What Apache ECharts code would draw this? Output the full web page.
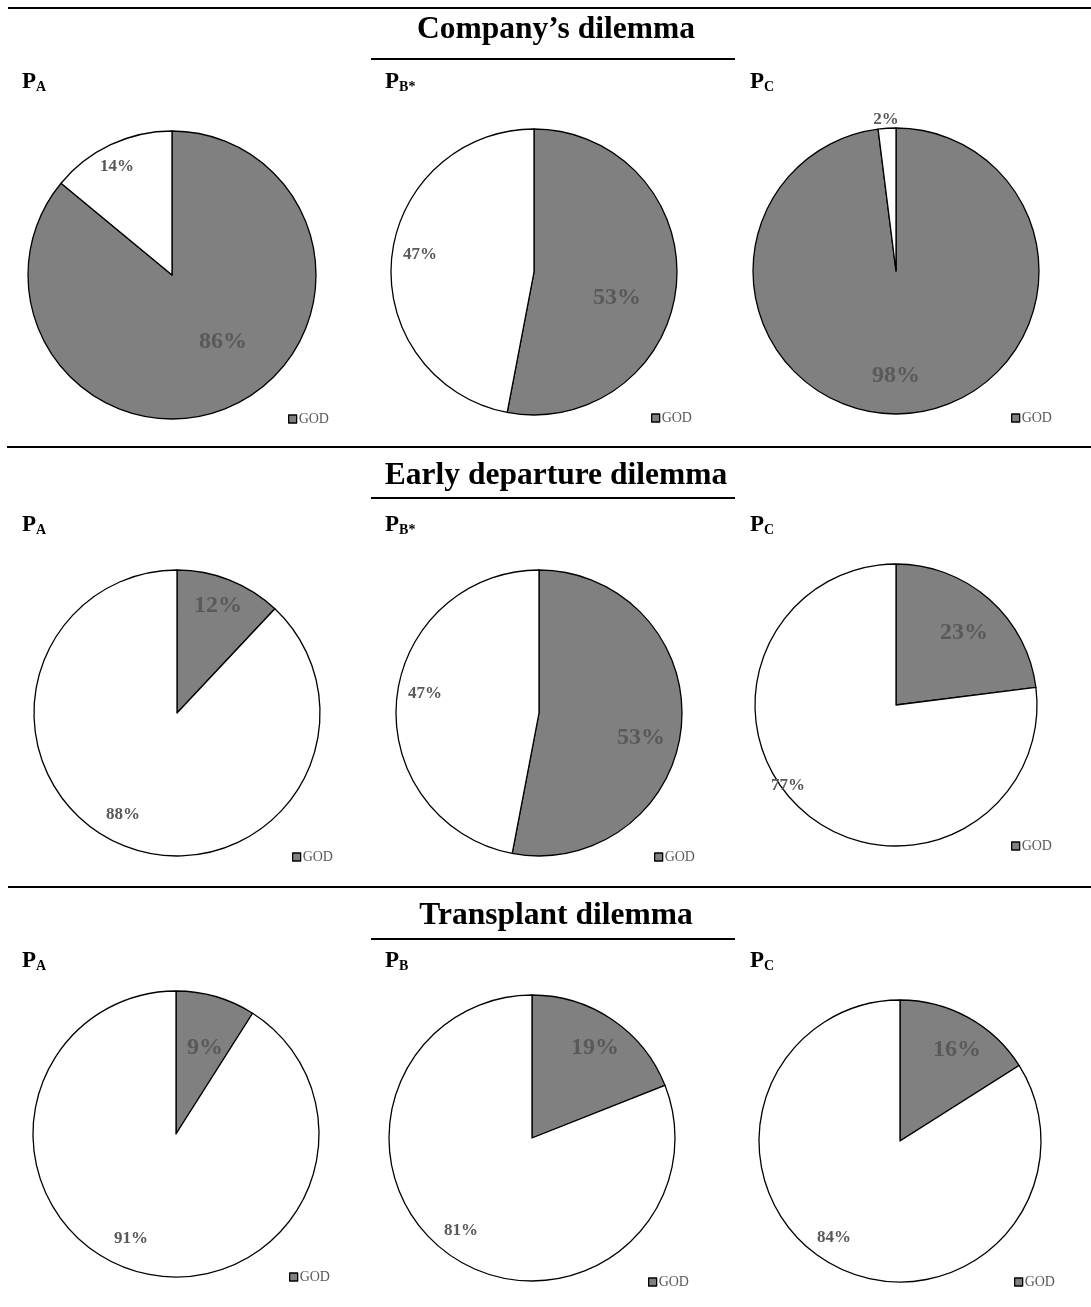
<!DOCTYPE html>
<html>
<head>
<meta charset="utf-8">
<script src="https://cdn.jsdelivr.net/npm/echarts@6/dist/echarts.min.js"></script>
<style>
  html, body { margin: 0; padding: 0; background: #ffffff; }
  #chart { width: 1091px; height: 1307px; }
</style>
</head>
<body>
<div id="chart"></div>
<script>
// ---- data ----
const dilemmas = ['Company’s dilemma', 'Early departure dilemma', 'Transplant dilemma'];
const panelSubscripts = [
  ['A', 'B*', 'C'],
  ['A', 'B*', 'C'],
  ['A', 'B', 'C']
];
const godShare = [
  [86, 53, 98],
  [12, 53, 23],
  [9, 19, 16]
];
const otherShare = [
  [14, 47, 2],
  [88, 47, 77],
  [91, 81, 84]
];
const legendNames = ['GOD'];

// ---- layout ----
const FONT = '"Liberation Serif", "Times New Roman", serif';
const GREY = '#808080';
const LABEL_GREY = '#595959';

// pie centre x, centre y, radius
const pieGeom = [
  [[172, 275, 144], [534, 272, 143], [896, 271, 143]],
  [[177, 713, 143], [539, 713, 143], [896, 705, 141]],
  [[176, 1134, 143], [532, 1138, 143], [900, 1141, 141]]
];
// label text centres relative to the pie centre: [GOD slice, other slice]
const labelSpots = [
  [[[51, 67], [-55, -108]], [[83, 26], [-114, -17]], [[0, 105], [-10, -151]]],
  [[[41, -107], [-54, 102]], [[102, 25], [-114, -19]], [[68, -72], [-108, 81]]],
  [[[29, -86], [-45, 105]], [[63, -90], [-71, 93]], [[57, -91], [-66, 97]]]
];
// legend swatch top-left corners
const legendSpots = [
  [[288, 415], [651, 414], [1011, 414]],
  [[292, 853], [654, 853], [1011, 842]],
  [[289, 1273], [648, 1278], [1014, 1278]]
];
const headingY = [30, 476, 916];
const headingX = 556;
const ruleY = [8, 447, 887];
const ruleX0 = [8, 7, 8];
const underlineY = [59, 498, 939];
const underlineX = [371, 735];
const panelLabelX = [22, 385, 750];
const panelLabelY = [83, 526, 962];

const series = [];
const legends = [];
const graphics = [];

dilemmas.forEach((heading, r) => {
  // section rule, heading and underline
  graphics.push({
    type: 'line', silent: true,
    shape: { x1: ruleX0[r], y1: ruleY[r], x2: 1091, y2: ruleY[r] },
    style: { stroke: '#000', lineWidth: 2 }
  });
  graphics.push({
    type: 'text', silent: true, x: headingX, y: headingY[r],
    style: {
      text: heading, font: 'bold 31.5px ' + FONT, fill: '#000',
      align: 'center', verticalAlign: 'middle'
    }
  });
  graphics.push({
    type: 'line', silent: true,
    shape: { x1: underlineX[0], y1: underlineY[r], x2: underlineX[1], y2: underlineY[r] },
    style: { stroke: '#000', lineWidth: 2 }
  });

  for (let c = 0; c < 3; c++) {
    const [cx, cy, rad] = pieGeom[r][c];
    const spots = labelSpots[r][c];

    // panel label P with subscript
    graphics.push({
      type: 'text', silent: true, x: panelLabelX[c], y: panelLabelY[r],
      style: {
        text: '{p|P}{s|' + panelSubscripts[r][c] + '}',
        align: 'left', verticalAlign: 'middle',
        rich: {
          p: { fontFamily: FONT, fontWeight: 'bold', fontSize: 23, lineHeight: 22, fill: '#000', color: '#000', verticalAlign: 'bottom' },
          s: { fontFamily: FONT, fontWeight: 'bold', fontSize: 14, lineHeight: 10, fill: '#000', color: '#000', verticalAlign: 'bottom' }
        }
      }
    });

    series.push({
      type: 'pie',
      center: [cx, cy],
      radius: rad,
      startAngle: 90,
      clockwise: true,
      animation: false,
      silent: true,
      emphasis: { disabled: true },
      itemStyle: { borderColor: '#000', borderWidth: 1.3 },
      label: {
        show: true,
        position: 'inside',
        formatter: '{c}%',
        fontFamily: FONT,
        fontWeight: 'bold',
        color: LABEL_GREY
      },
      labelLine: { show: false },
      labelLayout: (params) => {
        const [dx, dy] = spots[params.dataIndex];
        return { x: cx + dx, y: cy + dy, align: 'center', verticalAlign: 'middle' };
      },
      data: [
        { name: 'GOD', value: godShare[r][c], itemStyle: { color: GREY }, label: { fontSize: 24 } },
        { name: 'Other', value: otherShare[r][c], itemStyle: { color: '#ffffff' }, label: { fontSize: 17 } }
      ]
    });

    const [lx, ly] = legendSpots[r][c];
    legends.push({
      data: legendNames,
      left: lx,
      top: ly - 3,
      padding: 0,
      icon: 'rect',
      itemWidth: 8,
      itemHeight: 8,
      selectedMode: false,
      itemStyle: { borderWidth: 1.3 },
      textStyle: { fontFamily: FONT, fontSize: 14, color: LABEL_GREY, padding: [0, 0, 0, -3] }
    });
  }
});

const chart = echarts.init(document.getElementById('chart'), null, { renderer: 'canvas' });
chart.setOption({
  backgroundColor: '#ffffff',
  animation: false,
  legend: legends,
  series: series,
  graphic: graphics
});
</script>
</body>
</html>
